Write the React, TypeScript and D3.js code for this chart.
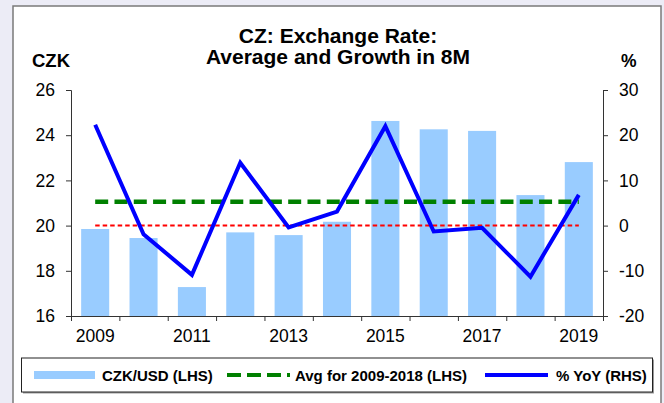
import React, { useRef, useEffect } from 'react';
import * as d3 from 'd3';

// Chart values
const years = ['2009', '2010', '2011', '2012', '2013', '2014', '2015', '2016', '2017', '2018', '2019'];
const czkUsd = [19.85, 19.45, 17.28, 19.7, 19.58, 20.17, 24.63, 24.26, 24.19, 21.35, 22.81];
const yoyPct = [22.3, -1.9, -10.9, 13.9, -0.4, 3.1, 22.0, -1.3, -0.5, -11.3, 6.8];
const avg0918 = [21.05];
const leftTicks = [16, 18, 20, 22, 24, 26];
const rightTicks = [-20, -10, 0, 10, 20, 30];
const xLabelYears = ['2009', '2011', '2013', '2015', '2017', '2019'];
const legendLabels = ['CZK/USD (LHS)', 'Avg for 2009-2018 (LHS)', '% YoY (RHS)'];

const FONT = "'Liberation Sans', Arial, Helvetica, sans-serif";

function ExchangeRateChart() {
  const svgRef = useRef<SVGSVGElement>(null);

  useEffect(() => {
    const svg = d3.select(svgRef.current);
    svg.selectAll('*').remove();

    const W = 664;
    const H = 403;
    const plot = { left: 71, right: 603, top: 90, bottom: 316 };

    // background + frame
    svg.append('rect').attr('width', W).attr('height', H).attr('fill', '#ececf6');
    svg
      .append('rect')
      .attr('x', 13)
      .attr('y', 6)
      .attr('width', 648)
      .attr('height', 440)
      .attr('fill', '#fff')
      .attr('stroke', '#7a7a7a')
      .attr('stroke-width', 1.5);

    // scales
    const x = d3
      .scaleBand<string>()
      .domain(years)
      .range([plot.left, plot.right])
      .paddingInner(0.42)
      .paddingOuter(0.21);
    const step = (plot.right - plot.left) / years.length;
    const cx = (d: string) => x(d)! + x.bandwidth() / 2;
    const yL = d3.scaleLinear().domain([16, 26]).range([plot.bottom, plot.top]);
    const yR = d3.scaleLinear().domain([-20, 30]).range([plot.bottom, plot.top]);

    // bars
    svg
      .append('g')
      .selectAll('rect')
      .data(years)
      .enter()
      .append('rect')
      .attr('x', (d) => x(d)!)
      .attr('y', (_, i) => yL(czkUsd[i]))
      .attr('width', x.bandwidth())
      .attr('height', (_, i) => plot.bottom - yL(czkUsd[i]))
      .attr('fill', '#99ccff');

    const first = cx(years[0]);
    const last = cx(years[years.length - 1]);

    // red zero line (RHS)
    svg
      .append('line')
      .attr('x1', first)
      .attr('x2', last)
      .attr('y1', yR(0))
      .attr('y2', yR(0))
      .attr('stroke', '#ff0000')
      .attr('stroke-width', 2)
      .attr('stroke-dasharray', '4.5,3');

    // green average line (LHS)
    svg
      .append('line')
      .attr('x1', first)
      .attr('x2', last)
      .attr('y1', yL(avg0918[0]))
      .attr('y2', yL(avg0918[0]))
      .attr('stroke', '#008000')
      .attr('stroke-width', 4.5)
      .attr('stroke-dasharray', '13,6.3');

    // % YoY line
    const line = d3
      .line<number>()
      .x((_, i) => cx(years[i]))
      .y((d) => yR(d));
    svg
      .append('path')
      .datum(yoyPct)
      .attr('d', line)
      .attr('fill', 'none')
      .attr('stroke', '#0000ff')
      .attr('stroke-width', 4);

    // axes
    const axisColor = '#333';
    const fmt = (d: d3.NumberValue) => String(d);
    const leftAxis = svg
      .append('g')
      .attr('transform', `translate(${plot.left},0)`)
      .call(d3.axisLeft(yL).tickValues(leftTicks).tickFormat(fmt).tickSize(5).tickPadding(11));
    const rightAxis = svg
      .append('g')
      .attr('transform', `translate(${plot.right},0)`)
      .call(d3.axisRight(yR).tickValues(rightTicks).tickFormat(fmt).tickSize(5).tickPadding(11));
    const tickPos = d3.range(years.length + 1).map((i) => plot.left + i * step);
    const bottomAxis = svg
      .append('g')
      .attr('transform', `translate(0,${plot.bottom})`)
      .call(
        d3
          .axisBottom(d3.scaleLinear().domain([plot.left, plot.right]).range([plot.left, plot.right]))
          .tickValues(tickPos)
          .tickSize(5)
          .tickFormat(() => '')
      );
    [leftAxis, rightAxis, bottomAxis].forEach((g) => {
      g.select('.domain').attr('stroke', axisColor);
      g.selectAll('.tick line').attr('stroke', axisColor);
      g.selectAll('.tick text')
        .attr('fill', '#000')
        .style('font-family', FONT)
        .style('font-size', '17.5px');
    });

    // year labels
    svg
      .append('g')
      .selectAll('text')
      .data(xLabelYears)
      .enter()
      .append('text')
      .attr('x', (d) => cx(d))
      .attr('y', 342)
      .attr('text-anchor', 'middle')
      .style('font-family', FONT)
      .style('font-size', '17.5px')
      .text((d) => d);

    // titles
    const title = svg
      .append('text')
      .attr('text-anchor', 'middle')
      .style('font-family', FONT)
      .style('font-size', '21px')
      .style('font-weight', 'bold');
    title.append('tspan').attr('x', 338).attr('y', 43).text('CZ: Exchange Rate:');
    title.append('tspan').attr('x', 338).attr('y', 64).text('Average and Growth in 8M');

    svg
      .append('text')
      .attr('x', 32)
      .attr('y', 67)
      .style('font-family', FONT)
      .style('font-size', '18.5px')
      .style('font-weight', 'bold')
      .text('CZK');
    svg
      .append('text')
      .attr('x', 621)
      .attr('y', 67)
      .style('font-family', FONT)
      .style('font-size', '17.5px')
      .style('font-weight', 'bold')
      .text('%');

    // legend
    const lg = svg.append('g');
    lg.append('rect')
      .attr('x', 23)
      .attr('y', 359.5)
      .attr('width', 631)
      .attr('height', 34)
      .attr('fill', '#999');
    lg.append('rect')
      .attr('x', 21.5)
      .attr('y', 358)
      .attr('width', 631)
      .attr('height', 34)
      .attr('fill', '#fff')
      .attr('stroke', '#222')
      .attr('stroke-width', 1);
    lg.append('rect')
      .attr('x', 34)
      .attr('y', 371)
      .attr('width', 61)
      .attr('height', 8)
      .attr('fill', '#99ccff');
    lg.append('line')
      .attr('x1', 227)
      .attr('x2', 290)
      .attr('y1', 375)
      .attr('y2', 375)
      .attr('stroke', '#008000')
      .attr('stroke-width', 4)
      .attr('stroke-dasharray', '14,6');
    lg.append('line')
      .attr('x1', 485)
      .attr('x2', 548)
      .attr('y1', 375)
      .attr('y2', 375)
      .attr('stroke', '#0000ff')
      .attr('stroke-width', 4);
    const legendX = [102, 295, 556];
    lg.selectAll('text.lbl')
      .data(legendLabels)
      .enter()
      .append('text')
      .attr('class', 'lbl')
      .attr('x', (_, i) => legendX[i])
      .attr('y', 381)
      .style('font-family', FONT)
      .style('font-size', '15px')
      .style('font-weight', 'bold')
      .text((d) => d);
  }, []);

  return (
    <svg
      ref={svgRef}
      width={664}
      height={403}
      style={{ position: 'absolute', left: 0, top: 0, display: 'block' }}
    />
  );
}

export default function App() {
  return <ExchangeRateChart />;
}
